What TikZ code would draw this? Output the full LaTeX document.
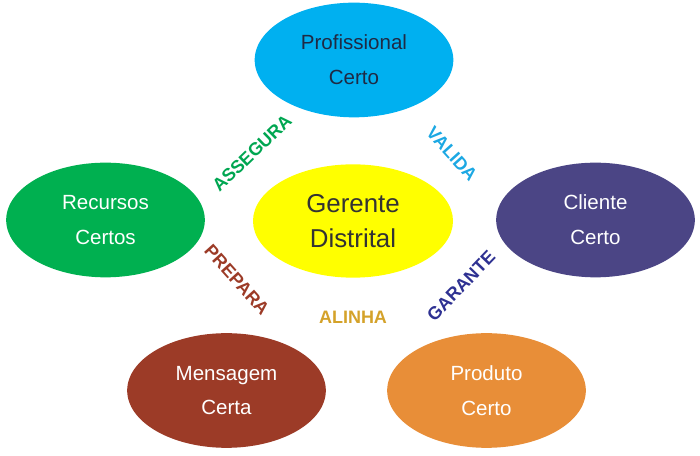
\documentclass[tikz,border=0pt]{standalone}
\usepackage{fontspec}
\setmainfont{Liberation Sans}
\usetikzlibrary{shapes.geometric}
\definecolor{azul}{HTML}{00B0F0}
\definecolor{verde}{HTML}{00B050}
\definecolor{roxo}{HTML}{4B4585}
\definecolor{marrom}{HTML}{9C3B27}
\definecolor{laranja}{HTML}{E88E38}
\definecolor{amarelo}{HTML}{FFFF00}
\definecolor{verdetxt}{HTML}{00A651}
\definecolor{azultxt}{HTML}{1CA8E3}
\definecolor{marinho}{HTML}{2E3192}
\definecolor{ouro}{HTML}{D4A22A}
\definecolor{tinta}{HTML}{1F2A44}
\tikzset{
	oval/.style={ellipse, minimum width=149pt, minimum height=86pt, inner sep=0pt, align=center, text=white, font=\fontsize{15.4}{26}\selectfont},
	verbo/.style={font=\fontsize{13.5}{16}\selectfont\bfseries}
}
\begin{document}
\begin{tikzpicture}[x=0.75pt,y=0.75pt]
				\useasboundingbox (0,0) rectangle (700,456);
				\node[oval, fill=azul, text=tinta](prof) at (354,396){Profissional\\Certo};
				\node[oval, fill=verde](rec) at (105.5,236){Recursos\\Certos};
				\node[oval, fill=roxo](cli) at (595.5,236){Cliente\\Certo};
				\node[oval, fill=marrom](men) at (226.5,65.5){Mensagem\\Certa};
				\node[oval, fill=laranja](prod) at (486.5,65.5){Produto\\Certo};
				\node[oval, fill=amarelo, text=black!80, minimum width=150pt, minimum height=85pt, font=\fontsize{19.4}{26}\selectfont](ger) at (353,235){Gerente\\Distrital};
				\node[verbo, text=verdetxt, rotate=44](assegura) at (252,303){ASSEGURA};
				\node[verbo, text=azultxt, rotate=-48](valida) at (452,302){VALIDA};
				\node[verbo, text=marrom, rotate=-48](prepara) at (237,176){PREPARA};
				\node[verbo, text=marinho, rotate=46](garante) at (461,170){GARANTE};
				\node[verbo, text=ouro](alinha) at (353,139){ALINHA};
\end{tikzpicture}
\end{document}
